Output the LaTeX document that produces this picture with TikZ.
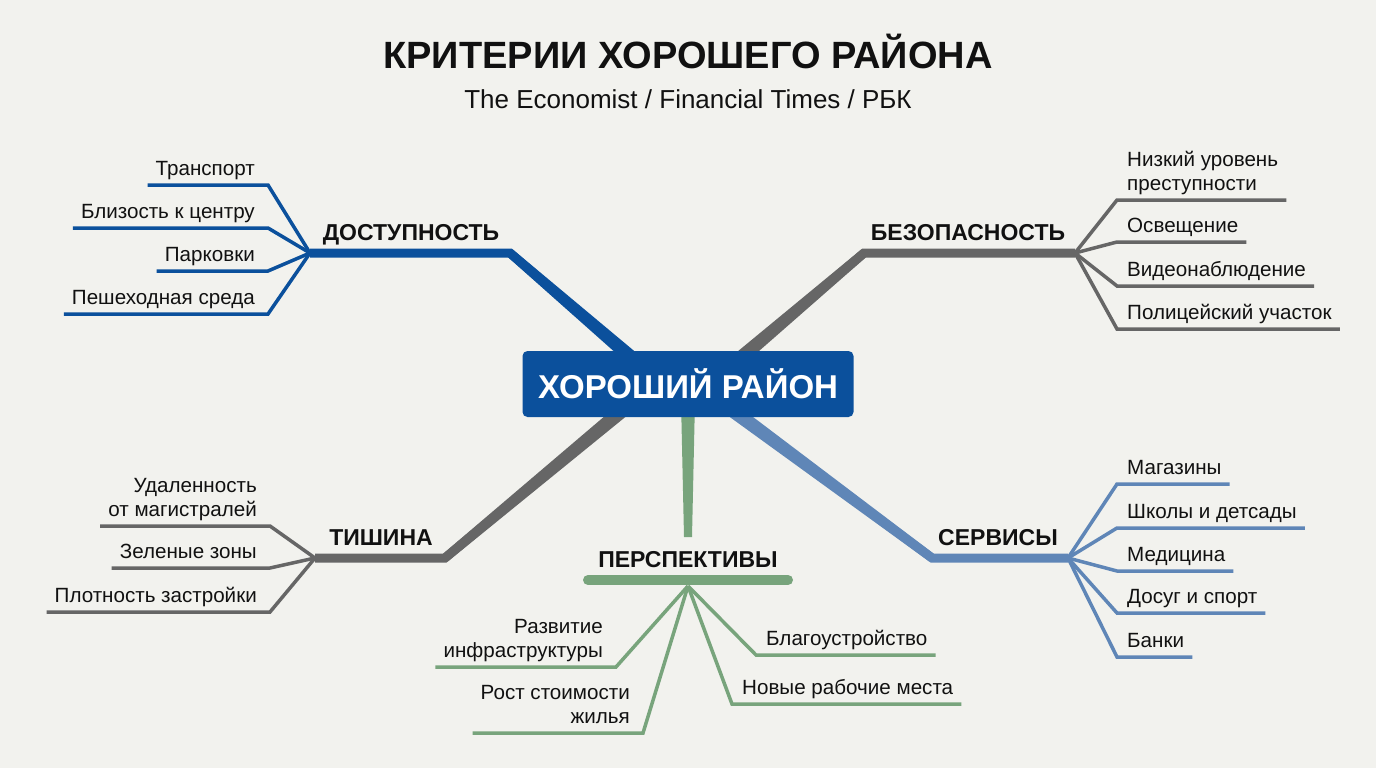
\documentclass[tikz,border=0pt]{standalone}
\usepackage{fontspec}
\setmainfont{Liberation Sans}
\usetikzlibrary{calc}
\definecolor{fon}{HTML}{F2F2EE}
\definecolor{sinij}{HTML}{0B509C}
\definecolor{seryj}{HTML}{666666}
\definecolor{goluboj}{HTML}{5F86B7}
\definecolor{zelenyj}{HTML}{78A47C}
\definecolor{chernyj}{HTML}{111111}

\begin{document}
\begin{tikzpicture}[x=1pt,y=-1pt,
  rama/.style={line width=9pt,line join=miter},
  hoja/.style={line width=3.5pt},
  rotulo/.style={font=\fontsize{23}{27}\selectfont\bfseries,text=chernyj,anchor=base},
  hojaL/.style={font=\fontsize{20.6}{24}\selectfont,text=chernyj,align=right,anchor=south east,
    inner xsep=8pt,inner ysep=3pt,text depth=6pt},
  hojaR/.style={font=\fontsize{20.6}{24}\selectfont,text=chernyj,align=left,anchor=south west,
    inner xsep=8pt,inner ysep=3pt,text depth=6pt}]
  \useasboundingbox (0,0) rectangle (1376,768);
  \fill[fon] (0,0) rectangle (1376,768);

  % titulo
  \node[font=\fontsize{38}{40}\selectfont\bfseries,text=chernyj,anchor=base] (tit) at (688,69)
    {КРИТЕРИИ ХОРОШЕГО РАЙОНА};
  \node[font=\fontsize{26}{28}\selectfont,text=chernyj,anchor=base] (sub) at (688,108)
    {The Economist / Financial Times / РБК};

  % puntos de las ramas
  \coordinate (dA) at (310,253);  \coordinate (dB) at (510,253);  \coordinate (dT) at (662,384);
  \coordinate (bA) at (1075,253); \coordinate (bB) at (864,253);  \coordinate (bT) at (710,384);
  \coordinate (tA) at (315,558);  \coordinate (tB) at (445,558);  \coordinate (tT) at (654,384);
  \coordinate (sA) at (1068,558); \coordinate (sB) at (932,558);  \coordinate (sT) at (697,384);
  \coordinate (pTop) at (688,537);
  \coordinate (pL) at (588,580);  \coordinate (pR) at (788,580);  \coordinate (pA) at (688,586);

  % ramas principales (se ensanchan hacia el centro)
  \draw[rama,sinij] (dA) -- (dB) -- (dT);
  \draw[rama,seryj] (bA) -- (bB) -- (bT);
  \draw[rama,seryj] (tA) -- (tB) -- (tT);
  \draw[rama,goluboj] (sA) -- (sB) -- (sT);
  \foreach \a/\b/\c in {dB/dT/sinij,bB/bT/seryj,tB/tT/seryj,sB/sT/goluboj}
    \fill[\c] ($(\a)!4.5pt!90:(\b)$) -- ($(\b)!7.5pt!-90:(\a)$)
      -- ($(\b)!7.5pt!90:(\a)$) -- ($(\a)!4.5pt!-90:(\b)$) -- cycle;
  \fill[zelenyj] (681,400) -- (695,400) -- (692,537) -- (684,537) -- cycle;
  \draw[zelenyj,line width=10pt,line cap=round] (pL) -- (pR);

  \node[fill=sinij,rounded corners=5pt,minimum width=331pt,minimum height=66pt,
    text=white,font=\fontsize{33}{36}\selectfont\bfseries] (hub) at (688,384) {ХОРОШИЙ РАЙОН};

  % ДОСТУПНОСТЬ
  \node[rotulo] (dost) at (411,240) {ДОСТУПНОСТЬ};
  \node[hojaL] (d1) at (263,185) {Транспорт};
  \node[hojaL] (d2) at (263,228) {Близость к центру};
  \node[hojaL] (d3) at (263,271) {Парковки};
  \node[hojaL] (d4) at (263,314) {Пешеходная среда};
  \foreach \n in {d1,d2,d3,d4}
    \draw[hoja,sinij] (dA) -- ([xshift=5pt]\n.south east) -- (\n.south west);

  % БЕЗОПАСНОСТЬ
  \node[rotulo] (bez) at (968,240) {БЕЗОПАСНОСТЬ};
  \node[hojaR] (b1) at (1119,200) {Низкий уровень\\преступности};
  \node[hojaR] (b2) at (1119,242) {Освещение};
  \node[hojaR] (b3) at (1119,286) {Видеонаблюдение};
  \node[hojaR] (b4) at (1119,329) {Полицейский участок};
  \foreach \n in {b1,b2,b3,b4}
    \draw[hoja,seryj] (bA) -- ([xshift=-2pt]\n.south west) -- (\n.south east);

  % ТИШИНА
  \node[rotulo] (tish) at (381,545) {ТИШИНА};
  \node[hojaL] (t1) at (265,526) {Удаленность\\от магистралей};
  \node[hojaL] (t2) at (265,568) {Зеленые зоны};
  \node[hojaL] (t3) at (265,612) {Плотность застройки};
  \foreach \n in {t1,t2,t3}
    \draw[hoja,seryj] (tA) -- ([xshift=5pt]\n.south east) -- (\n.south west);

  % СЕРВИСЫ
  \node[rotulo] (serv) at (998,545) {СЕРВИСЫ};
  \node[hojaR] (s1) at (1119,484) {Магазины};
  \node[hojaR] (s2) at (1119,528) {Школы и детсады};
  \node[hojaR] (s3) at (1119,571) {Медицина};
  \node[hojaR] (s4) at (1119,613) {Досуг и спорт};
  \node[hojaR] (s5) at (1119,657) {Банки};
  \foreach \n in {s1,s2,s3,s4,s5}
    \draw[hoja,goluboj] (sA) -- ([xshift=-2pt]\n.south west) -- (\n.south east);

  % ПЕРСПЕКТИВЫ
  \node[rotulo] (persp) at (688,567) {ПЕРСПЕКТИВЫ};
  \node[hojaL] (p1) at (611,667) {Развитие\\инфраструктуры};
  \node[hojaL] (p2) at (638,733) {Рост стоимости\\жилья};
  \node[hojaR] (p3) at (758,655) {Благоустройство};
  \node[hojaR] (p4) at (734,704) {Новые рабочие места};
  \foreach \n in {p1,p2}
    \draw[hoja,zelenyj] (pA) -- ([xshift=5pt]\n.south east) -- (\n.south west);
  \foreach \n in {p3,p4}
    \draw[hoja,zelenyj] (pA) -- ([xshift=-2pt]\n.south west) -- (\n.south east);
\end{tikzpicture}
\end{document}
